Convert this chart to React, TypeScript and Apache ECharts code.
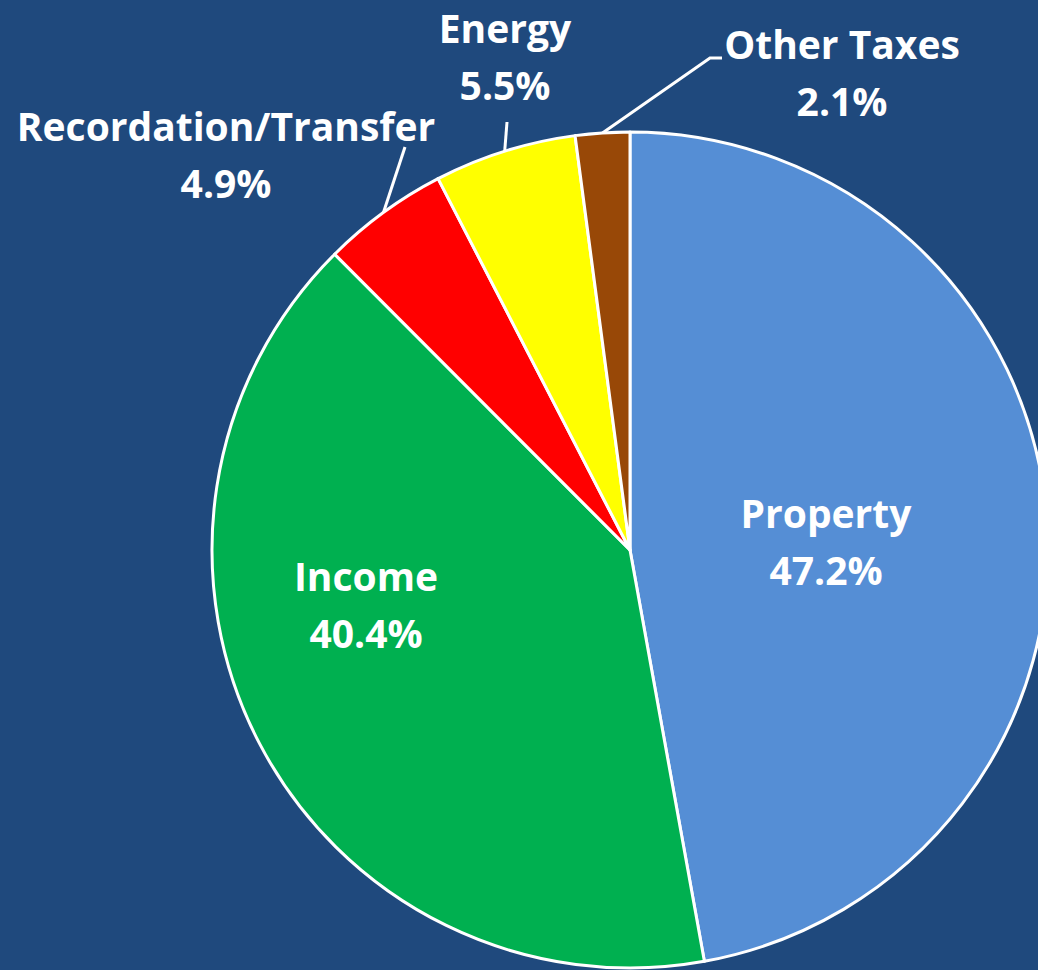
import React, { useEffect, useRef } from "react";
import * as echarts from "echarts";

const categories = ["Property", "Income", "Recordation/Transfer", "Energy", "Other Taxes"];
const shares = [47.2, 40.4, 4.9, 5.5, 2.1];
const colors = ["#558ED5", "#00B050", "#FF0000", "#FFFF00", "#984807"];

// label layout (offsets from pie centre, px)
const CX = 630;
const CY = 550;
const labelOffsets = [
  [196, -9],
  [-264, 54],
  [-404, -396],
  [-125, -494],
  [212, -478],
];
// leader line extra points (offsets from pie centre), null = no line
const leaderPoints: (number[][] | null)[] = [
  null,
  null,
  [[-225, -403], [-225, -403]],
  [[-123, -428], [-123, -428]],
  [[80, -492], [92, -492]],
];

export default function App() {
  const ref = useRef<HTMLDivElement>(null);
  useEffect(() => {
    if (!ref.current) return;
    const chart = echarts.init(ref.current, undefined, { renderer: "svg" });
    const data = categories.map((name, i) => ({
      name,
      value: shares[i],
      itemStyle: { color: colors[i] },
      label: { position: i < 2 ? "inside" : "outside" },
      labelLine: { show: i >= 2 },
    }));
    chart.setOption({
      animation: false,
      backgroundColor: "#1F497D",
      series: [
        {
          type: "pie",
          center: [CX, CY],
          radius: 418,
          startAngle: 90,
          clockwise: true,
          data,
          itemStyle: { borderColor: "#FFFFFF", borderWidth: 3 },
          label: {
            color: "#FFFFFF",
            fontFamily: "Open Sans",
            fontWeight: "bold",
            fontSize: 39,
            lineHeight: 57,
            align: "center",
            overflow: "none",
            formatter: (p: any) => `${p.name}\n${Number(p.value).toFixed(1)}%`,
          },
          labelLine: {
            show: true,
            length: 20,
            length2: 0,
            lineStyle: { color: "#FFFFFF", width: 3 },
          },
          labelLayout: (params: any) => {
            const i = params.dataIndex;
            const off = labelOffsets[i];
            const res: any = {
              x: CX + off[0],
              y: CY + off[1],
              align: "center",
              verticalAlign: "middle",
            };
            const lp = leaderPoints[i];
            if (lp && params.labelLinePoints) {
              res.labelLinePoints = [
                params.labelLinePoints[0],
                [CX + lp[0][0], CY + lp[0][1]],
                [CX + lp[1][0], CY + lp[1][1]],
              ];
            }
            return res;
          },
        },
      ],
    });
    return () => chart.dispose();
  }, []);
  return (
    <div
      ref={ref}
      style={{ position: "fixed", left: 0, top: 0, width: 1038, height: 970 }}
    />
  );
}
